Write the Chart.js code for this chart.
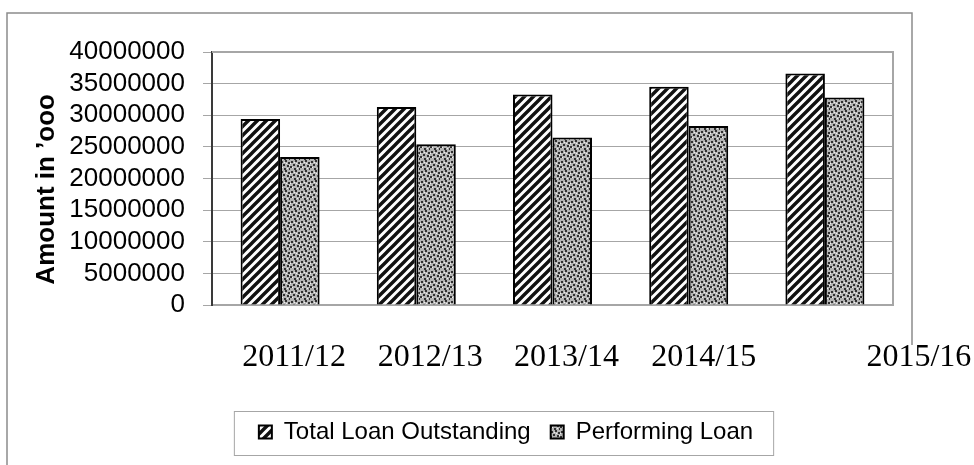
<!DOCTYPE html>
<html>
<head>
<meta charset="utf-8">
<title>Loan Outstanding</title>
<script src="https://cdn.jsdelivr.net/npm/chart.js@4.4.0/dist/chart.umd.min.js"></script>
<style>
    html, body { margin: 0; padding: 0; background: #fff; }
    #loanChart { display: block; }
</style>
</head>
<body>
<canvas id="loanChart" width="974" height="465"></canvas>
<script>
// Loan figures by financial year (amount in '000)
var years = ['2011/12', '2012/13', '2013/14', '2014/15', '2015/16'];
var totalLoan = [29400000, 31300000, 33300000, 34500000, 36600000];
var performingLoan = [23400000, 25400000, 26500000, 28300000, 32800000];
var seriesNames = ['Total Loan Outstanding', 'Performing Loan'];
var yMax = 40000000;
var yStep = 5000000;

// Diagonal stripe fill
function makeHatch() {
    var c = document.createElement('canvas');
    c.width = 9; c.height = 9;
    var g = c.getContext('2d');
    g.fillStyle = '#ffffff';
    g.fillRect(0, 0, 9, 9);
    g.strokeStyle = '#111111';
    g.lineWidth = 3.4;
    g.beginPath();
    g.moveTo(-2, 11); g.lineTo(11, -2);
    g.moveTo(-2, 2); g.lineTo(2, -2);
    g.moveTo(7, 11); g.lineTo(11, 7);
    g.stroke();
    return g.createPattern(c, 'repeat');
}

// Grey confetti fill
function makeDots() {
    var c = document.createElement('canvas');
    c.width = 10; c.height = 10;
    var g = c.getContext('2d');
    g.fillStyle = '#b4b4b4';
    g.fillRect(0, 0, 10, 10);
    g.fillStyle = '#303030';
    [[1, 1], [5, 0], [8, 2], [3, 4], [7, 5], [0, 6], [4, 8], [9, 8]].forEach(function (p) {
        g.fillRect(p[0], p[1], 2, 2);
    });
    g.fillStyle = '#f0f0f0';
    [[4, 2], [0, 3], [6, 3], [2, 7], [7, 8], [9, 5]].forEach(function (p) {
        g.fillRect(p[0], p[1], 1, 1);
    });
    return g.createPattern(c, 'repeat');
}

// white page, outer frame and plot frame
var framePlugin = {
    id: 'frame',
    beforeDraw: function (chart) {
        var ctx = chart.ctx;
        ctx.save();
        ctx.fillStyle = '#ffffff';
        ctx.fillRect(0, 0, chart.width, chart.height);
        ctx.strokeStyle = '#8c8c8c';
        ctx.lineWidth = 1.5;
        ctx.beginPath();
        ctx.moveTo(7, 465);
        ctx.lineTo(7, 13);
        ctx.lineTo(912, 13);
        ctx.lineTo(912, 345);
        ctx.stroke();
        ctx.restore();
    },
    afterDatasetsDraw: function (chart) {
        var a = chart.chartArea;
        var ctx = chart.ctx;
        ctx.save();
        ctx.strokeStyle = '#a6a6a6';
        ctx.lineWidth = 2;
        ctx.beginPath();
        ctx.moveTo(a.left, a.top);
        ctx.lineTo(a.right, a.top);
        ctx.lineTo(a.right, a.bottom);
        ctx.stroke();
        ctx.restore();
    }
};

// year labels sit below the axis, nudged right of each group
var labelShift = [14, 14, 14, 15, 94];
var yearLabelPlugin = {
    id: 'yearLabels',
    afterDraw: function (chart) {
        var x = chart.scales.x;
        var ctx = chart.ctx;
        ctx.save();
        ctx.font = '32px "Liberation Serif", "Times New Roman", serif';
        ctx.fillStyle = '#000000';
        ctx.textAlign = 'center';
        ctx.textBaseline = 'middle';
        years.forEach(function (yr, i) {
            ctx.fillText(yr, x.getPixelForValue(i) + labelShift[i], 358);
        });
        ctx.restore();
    }
};

// box round the legend
var legendBoxPlugin = {
    id: 'legendBox',
    afterDraw: function (chart) {
        var boxes = chart.legend.legendHitBoxes;
        if (!boxes || !boxes.length) return;
        var first = boxes[0];
        var last = boxes[boxes.length - 1];
        var mid = first.top + first.height / 2;
        var ctx = chart.ctx;
        ctx.save();
        ctx.strokeStyle = '#a6a6a6';
        ctx.lineWidth = 1;
        ctx.strokeRect(first.left - 24.5, mid - 20.5, last.left + last.width - first.left + 45, 44);
        ctx.restore();
    }
};

var hatch = makeHatch();
var dots = makeDots();
var leftPad = 60;
var rightPad = 22;
var plotLeft = 212;
var plotRight = 893;

var ctx = document.getElementById('loanChart').getContext('2d');
var loanChart = new Chart(ctx, {
    type: 'bar',
    data: {
        labels: years,
        datasets: [{
            label: seriesNames[0],
            data: totalLoan,
            backgroundColor: hatch,
            borderColor: '#000000',
            borderWidth: 2,
            categoryPercentage: 0.58,
            barPercentage: 1.0
        }, {
            label: seriesNames[1],
            data: performingLoan,
            backgroundColor: dots,
            borderColor: '#000000',
            borderWidth: 2,
            categoryPercentage: 0.58,
            barPercentage: 1.0
        }]
    },
    options: {
        responsive: false,
        animation: false,
        devicePixelRatio: 1,
        layout: { padding: { left: leftPad, right: rightPad, top: 52, bottom: 11 } },
        plugins: {
            tooltip: { enabled: false },
            legend: {
                position: 'bottom',
                labels: {
                    color: '#000000',
                    boxWidth: 13,
                    boxHeight: 13,
                    padding: 20,
                    font: { family: '"Liberation Sans", Arial, sans-serif', size: 24 }
                }
            }
        },
        scales: {
            x: {
                afterFit: function (scale) { scale.height = 95; },
                grid: { display: false },
                border: { display: true, color: '#a6a6a6', width: 2 },
                ticks: { display: false }
            },
            y: {
                min: 0,
                max: yMax,
                afterFit: function (scale) { scale.width = plotLeft - leftPad; },
                grid: { color: '#a6a6a6', lineWidth: 1, tickLength: 9, drawTicks: true },
                border: { display: true, color: '#3a3a3a', width: 2 },
                ticks: {
                    stepSize: yStep,
                    autoSkip: false,
                    padding: 18,
                    color: '#000000',
                    font: { family: '"Liberation Sans", Arial, sans-serif', size: 26 },
                    callback: function (v) { return String(v); }
                },
                title: {
                    display: true,
                    // trailing spaces drop the title a little lower on the axis
                    text: 'Amount in \u2019ooo   ',
                    color: '#000000',
                    padding: { top: 31 - leftPad, bottom: 0 },
                    font: { family: '"Liberation Sans", Arial, sans-serif', size: 26, weight: 'bold' }
                }
            },
            // empty right-hand gutter so the legend sits centred under the plot
            gutter: {
                type: 'linear',
                position: 'right',
                afterFit: function (scale) { scale.width = 974 - rightPad - plotRight; },
                grid: { display: false },
                border: { display: false },
                ticks: { display: false }
            }
        }
    },
    plugins: [framePlugin, yearLabelPlugin, legendBoxPlugin]
});
</script>
</body>
</html>
